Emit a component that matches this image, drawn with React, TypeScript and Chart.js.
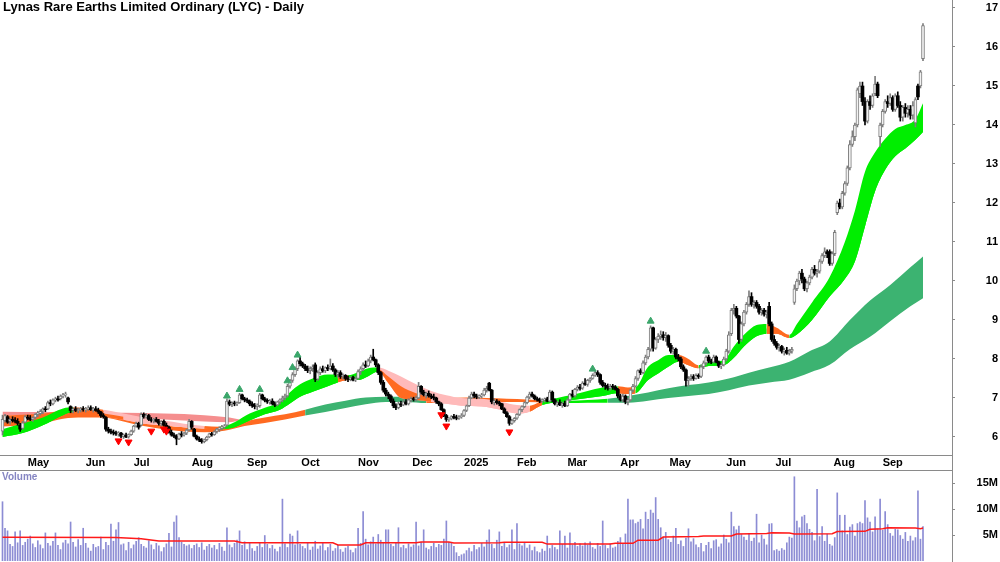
import React, { useEffect, useRef } from "react";
import { Chart, registerables } from "chart.js";
Chart.register(...registerables);

const FONT = "'Liberation Sans', Arial, Helvetica, sans-serif";

const TITLE = "Lynas Rare Earths Limited Ordinary (LYC) - Daily";

// Month labels and the bar index where each month starts
const MONTH_LABELS = ["May", "Jun", "Jul", "Aug", "Sep", "Oct", "Nov", "Dec", "2025", "Feb", "Mar", "Apr", "May", "Jun", "Jul", "Aug", "Sep"];
const MONTH_POS = [10, 33, 52, 75, 97, 118.5, 141, 162.5, 183, 204, 224, 245, 264.5, 287, 306.5, 329.5, 349];

const PRICE_TICKS = [6, 7, 8, 9, 10, 11, 12, 13, 14, 15, 16, 17];
const VOLUME_TICKS = [5, 10, 15];

// Daily candles (Apr 2024 - Sep 2025)
const OPEN = [
  6.15, 6.42, 6.52, 6.40, 6.45, 6.42, 6.40, 6.30, 6.22, 6.38,
  6.50, 6.48, 6.45, 6.50, 6.58, 6.60, 6.66, 6.72, 6.72, 6.88,
  6.85, 6.95, 6.98, 6.98, 7.05, 7.08, 7.00, 6.78, 6.68, 6.72,
  6.68, 6.70, 6.72, 6.70, 6.72, 6.75, 6.70, 6.72, 6.68, 6.64,
  6.55, 6.50, 6.20, 6.15, 6.12, 6.10, 6.08, 6.10, 6.02, 6.05,
  6.00, 6.06, 6.15, 6.28, 6.35, 6.30, 6.58, 6.52, 6.55, 6.45,
  6.42, 6.45, 6.40, 6.35, 6.40, 6.30, 6.25, 6.12, 6.05, 6.02,
  5.95, 6.08, 6.05, 6.10, 6.18, 6.40, 6.20, 6.02, 5.95, 5.92,
  5.88, 5.93, 6.00, 6.08, 6.06, 6.14, 6.20, 6.22, 6.26, 6.30,
  6.90, 6.84, 6.86, 6.85, 6.88, 7.08, 6.98, 6.95, 6.92, 6.85,
  6.80, 6.78, 6.80, 7.08, 6.98, 6.94, 6.90, 6.92, 6.85, 6.82,
  6.90, 6.95, 7.00, 7.05, 7.30, 7.45, 7.60, 7.75, 7.95, 7.88,
  7.82, 7.75, 7.70, 7.75, 7.85, 7.48, 7.65, 7.75, 7.70, 7.78,
  7.75, 7.82, 7.72, 7.60, 7.65, 7.55, 7.58, 7.50, 7.48, 7.52,
  7.46, 7.50, 7.68, 7.75, 7.85, 7.82, 7.95, 8.05, 7.98, 7.85,
  7.65, 7.40, 7.20, 7.10, 7.05, 6.92, 6.80, 6.75, 6.85, 6.82,
  6.90, 6.85, 6.95, 6.98, 6.96, 7.00, 7.30, 7.15, 7.08, 7.12,
  7.05, 7.02, 7.00, 6.90, 6.85, 6.70, 6.55, 6.45, 6.46, 6.52,
  6.50, 6.48, 6.52, 6.55, 6.68, 6.80, 7.00, 7.10, 7.05, 7.02,
  7.05, 7.08, 7.20, 7.38, 7.20, 6.90, 6.92, 6.88, 6.85, 6.72,
  6.62, 6.52, 6.35, 6.42, 6.48, 6.58, 6.70, 6.78, 6.88, 7.02,
  7.10, 7.05, 6.98, 6.95, 6.92, 6.95, 6.98, 6.92, 7.15, 6.95,
  6.85, 6.88, 6.82, 6.86, 6.80, 6.95, 7.10, 7.05, 7.22, 7.28,
  7.25, 7.38, 7.35, 7.45, 7.50, 7.58, 7.65, 7.60, 7.40, 7.32,
  7.30, 7.25, 7.30, 7.28, 7.22, 7.05, 6.95, 7.05, 6.90, 6.95,
  7.20, 7.30, 7.50, 7.70, 7.65, 7.90, 8.05, 8.25, 8.80, 8.28,
  8.50, 8.58, 8.62, 8.55, 8.60, 8.35, 8.20, 8.25, 8.05, 8.00,
  7.80, 7.72, 7.45, 7.50, 7.55, 7.50, 7.58, 7.55, 7.80, 7.90,
  8.05, 7.95, 7.92, 8.05, 7.92, 7.82, 7.85, 8.00, 8.20, 8.65,
  9.25, 9.30, 9.10, 8.50, 8.90, 9.20, 9.40, 9.60, 9.40, 9.45,
  9.35, 9.20, 9.25, 9.15, 9.35, 8.90, 8.50, 8.40, 8.30, 8.32,
  8.20, 8.22, 8.15, 8.20, 9.45, 9.80, 10.00, 10.20, 10.05, 9.80,
  9.95, 10.10, 10.30, 10.20, 10.25, 10.50, 10.65, 10.75, 10.75, 10.45,
  10.70, 11.75, 12.00, 11.90, 12.25, 12.50, 12.90, 13.50, 13.70, 14.00,
  14.80, 15.00, 14.60, 14.10, 14.60, 14.50, 14.80, 15.05, 13.70, 14.00,
  14.35, 14.60, 14.55, 14.70, 14.40, 14.75, 14.50, 14.20, 14.45, 14.30,
  14.40, 14.25, 14.05, 15.00, 15.00, 15.70
];
const HIGH = [
  6.56, 6.58, 6.55, 6.48, 6.52, 6.50, 6.47, 6.35, 6.40, 6.55,
  6.56, 6.55, 6.52, 6.60, 6.66, 6.70, 6.75, 6.78, 6.92, 6.95,
  6.98, 7.02, 7.05, 7.08, 7.12, 7.15, 7.02, 6.80, 6.75, 6.78,
  6.74, 6.76, 6.78, 6.76, 6.80, 6.80, 6.76, 6.78, 6.74, 6.66,
  6.60, 6.52, 6.25, 6.20, 6.18, 6.15, 6.14, 6.12, 6.08, 6.10,
  6.08, 6.18, 6.30, 6.38, 6.38, 6.62, 6.62, 6.60, 6.58, 6.50,
  6.48, 6.50, 6.45, 6.42, 6.44, 6.36, 6.28, 6.18, 6.10, 6.06,
  6.10, 6.14, 6.12, 6.20, 6.45, 6.42, 6.22, 6.05, 6.00, 5.96,
  5.95, 6.02, 6.10, 6.12, 6.16, 6.22, 6.26, 6.30, 6.32, 6.98,
  6.95, 6.90, 6.92, 6.90, 7.12, 7.10, 7.02, 7.00, 6.95, 6.90,
  6.86, 6.85, 7.12, 7.10, 7.02, 6.98, 6.96, 6.98, 6.90, 6.92,
  6.98, 7.05, 7.10, 7.35, 7.48, 7.65, 7.80, 7.98, 8.05, 7.92,
  7.86, 7.82, 7.80, 7.85, 7.90, 7.70, 7.80, 7.82, 7.80, 7.85,
  8.00, 7.88, 7.75, 7.70, 7.70, 7.62, 7.60, 7.56, 7.55, 7.56,
  7.55, 7.72, 7.80, 7.90, 7.95, 8.00, 8.10, 8.25, 8.00, 7.88,
  7.68, 7.45, 7.25, 7.15, 7.08, 6.98, 6.85, 6.90, 6.92, 6.95,
  6.96, 6.98, 7.02, 7.02, 7.05, 7.40, 7.32, 7.20, 7.15, 7.18,
  7.10, 7.10, 7.02, 6.92, 6.88, 6.72, 6.58, 6.50, 6.55, 6.58,
  6.56, 6.55, 6.60, 6.70, 6.82, 7.05, 7.15, 7.15, 7.10, 7.08,
  7.12, 7.25, 7.30, 7.40, 7.22, 6.98, 6.96, 6.92, 6.86, 6.75,
  6.65, 6.55, 6.45, 6.50, 6.60, 6.72, 6.80, 6.90, 7.05, 7.15,
  7.15, 7.08, 7.02, 7.00, 6.98, 7.00, 7.02, 7.20, 7.18, 6.98,
  6.92, 6.95, 6.90, 6.92, 6.98, 7.12, 7.20, 7.25, 7.32, 7.35,
  7.42, 7.50, 7.48, 7.52, 7.62, 7.70, 7.70, 7.62, 7.45, 7.38,
  7.36, 7.35, 7.35, 7.32, 7.25, 7.10, 7.10, 7.08, 7.00, 7.22,
  7.35, 7.55, 7.72, 7.75, 7.95, 8.10, 8.30, 8.85, 8.82, 8.55,
  8.65, 8.72, 8.70, 8.68, 8.62, 8.40, 8.30, 8.28, 8.12, 8.05,
  7.85, 7.75, 7.55, 7.60, 7.60, 7.62, 7.62, 7.85, 7.95, 8.08,
  8.10, 8.00, 8.10, 8.08, 7.95, 7.88, 8.05, 8.25, 8.70, 9.30,
  9.40, 9.35, 9.12, 8.95, 9.25, 9.45, 9.75, 9.70, 9.50, 9.50,
  9.40, 9.30, 9.30, 9.25, 9.45, 8.95, 8.60, 8.45, 8.38, 8.35,
  8.28, 8.30, 8.25, 8.30, 9.90, 10.05, 10.25, 10.30, 10.10, 10.00,
  10.15, 10.35, 10.40, 10.30, 10.55, 10.70, 10.85, 10.80, 10.80, 10.75,
  11.30, 12.05, 12.10, 12.30, 12.55, 12.95, 13.60, 13.85, 14.05, 14.95,
  15.10, 15.10, 14.70, 14.65, 14.75, 14.80, 15.25, 15.10, 14.05, 14.40,
  14.65, 14.75, 14.80, 14.75, 14.80, 14.85, 14.60, 14.50, 14.55, 14.50,
  14.50, 14.60, 14.70, 15.05, 15.40, 16.60
];
const LOW = [
  6.05, 6.38, 6.35, 6.33, 6.38, 6.36, 6.30, 6.14, 6.20, 6.36,
  6.44, 6.42, 6.40, 6.46, 6.52, 6.56, 6.60, 6.65, 6.70, 6.80,
  6.82, 6.90, 6.92, 6.95, 7.00, 7.02, 6.85, 6.62, 6.62, 6.65,
  6.62, 6.64, 6.66, 6.64, 6.68, 6.68, 6.64, 6.66, 6.60, 6.50,
  6.48, 6.15, 6.10, 6.08, 6.05, 6.04, 6.02, 5.98, 5.96, 5.98,
  5.97, 6.04, 6.12, 6.25, 6.20, 6.28, 6.48, 6.48, 6.42, 6.38,
  6.36, 6.38, 6.30, 6.28, 6.28, 6.22, 6.10, 6.02, 5.98, 5.80,
  5.93, 6.00, 6.02, 6.06, 6.15, 6.20, 6.00, 5.92, 5.88, 5.84,
  5.85, 5.90, 5.98, 6.02, 6.04, 6.10, 6.14, 6.18, 6.22, 6.28,
  6.80, 6.78, 6.80, 6.80, 6.86, 6.95, 6.90, 6.88, 6.80, 6.76,
  6.72, 6.70, 6.76, 6.95, 6.90, 6.86, 6.84, 6.82, 6.78, 6.80,
  6.85, 6.90, 6.95, 7.02, 7.25, 7.40, 7.55, 7.70, 7.82, 7.78,
  7.70, 7.65, 7.62, 7.68, 7.42, 7.45, 7.60, 7.66, 7.65, 7.70,
  7.72, 7.68, 7.55, 7.52, 7.50, 7.48, 7.45, 7.42, 7.44, 7.44,
  7.42, 7.48, 7.60, 7.70, 7.78, 7.80, 7.90, 7.95, 7.80, 7.60,
  7.35, 7.15, 7.05, 6.98, 6.88, 6.75, 6.70, 6.72, 6.78, 6.80,
  6.82, 6.82, 6.90, 6.92, 6.92, 6.98, 7.10, 7.05, 7.00, 7.02,
  6.98, 6.95, 6.86, 6.80, 6.68, 6.52, 6.40, 6.40, 6.44, 6.46,
  6.44, 6.45, 6.48, 6.52, 6.65, 6.78, 6.98, 7.00, 6.98, 6.98,
  7.00, 7.05, 7.15, 7.18, 6.85, 6.82, 6.84, 6.80, 6.70, 6.60,
  6.50, 6.30, 6.32, 6.38, 6.45, 6.55, 6.65, 6.75, 6.85, 6.98,
  7.02, 6.95, 6.92, 6.88, 6.88, 6.90, 6.90, 6.90, 6.90, 6.82,
  6.78, 6.80, 6.76, 6.78, 6.78, 6.92, 7.02, 7.02, 7.18, 7.20,
  7.22, 7.32, 7.30, 7.40, 7.48, 7.55, 7.55, 7.35, 7.28, 7.22,
  7.20, 7.20, 7.22, 7.20, 7.00, 6.92, 6.90, 6.85, 6.82, 6.92,
  7.15, 7.28, 7.45, 7.60, 7.62, 7.85, 8.00, 8.20, 8.20, 8.25,
  8.42, 8.50, 8.48, 8.45, 8.30, 8.15, 8.12, 8.00, 7.95, 7.75,
  7.68, 7.30, 7.30, 7.45, 7.45, 7.48, 7.50, 7.52, 7.75, 7.85,
  7.90, 7.88, 7.90, 7.90, 7.78, 7.75, 7.82, 7.95, 8.15, 8.60,
  9.15, 9.05, 8.40, 8.45, 8.85, 9.15, 9.35, 9.35, 9.30, 9.30,
  9.15, 9.12, 9.10, 9.05, 8.85, 8.45, 8.35, 8.25, 8.20, 8.15,
  8.10, 8.12, 8.10, 8.15, 9.40, 9.75, 9.90, 9.95, 9.75, 9.72,
  9.90, 10.05, 10.15, 10.10, 10.20, 10.45, 10.60, 10.60, 10.40, 10.40,
  10.65, 11.70, 11.85, 11.85, 12.20, 12.45, 12.85, 13.45, 13.60, 13.95,
  14.70, 14.50, 14.00, 14.05, 14.40, 14.45, 14.75, 14.70, 13.45, 13.95,
  14.30, 14.45, 14.50, 14.35, 14.35, 14.45, 14.10, 14.10, 14.20, 14.20,
  14.15, 14.15, 13.95, 14.65, 14.95, 15.65
];
const CLOSE = [
  6.45, 6.55, 6.38, 6.45, 6.42, 6.40, 6.35, 6.20, 6.36, 6.52,
  6.48, 6.45, 6.50, 6.58, 6.62, 6.66, 6.72, 6.70, 6.88, 6.85,
  6.95, 6.98, 6.95, 7.05, 7.08, 7.10, 6.90, 6.68, 6.72, 6.68,
  6.70, 6.72, 6.70, 6.72, 6.75, 6.70, 6.72, 6.68, 6.64, 6.55,
  6.52, 6.20, 6.15, 6.12, 6.10, 6.08, 6.10, 6.02, 6.05, 6.00,
  6.06, 6.15, 6.28, 6.35, 6.25, 6.58, 6.52, 6.55, 6.45, 6.42,
  6.45, 6.40, 6.35, 6.40, 6.30, 6.25, 6.12, 6.05, 6.02, 5.95,
  6.08, 6.05, 6.10, 6.18, 6.40, 6.25, 6.02, 5.95, 5.92, 5.88,
  5.93, 6.00, 6.08, 6.06, 6.14, 6.20, 6.22, 6.26, 6.28, 6.92,
  6.84, 6.86, 6.85, 6.88, 7.08, 6.98, 6.95, 6.92, 6.85, 6.80,
  6.78, 6.82, 7.08, 6.98, 6.94, 6.90, 6.92, 6.85, 6.82, 6.90,
  6.95, 7.00, 7.05, 7.30, 7.45, 7.60, 7.75, 7.95, 7.88, 7.82,
  7.75, 7.70, 7.75, 7.80, 7.48, 7.65, 7.75, 7.70, 7.78, 7.75,
  7.82, 7.72, 7.60, 7.65, 7.55, 7.58, 7.50, 7.48, 7.52, 7.46,
  7.50, 7.68, 7.75, 7.85, 7.82, 7.95, 8.05, 7.98, 7.85, 7.65,
  7.40, 7.20, 7.10, 7.05, 6.92, 6.80, 6.75, 6.85, 6.82, 6.90,
  6.85, 6.95, 6.98, 6.96, 7.00, 7.30, 7.15, 7.08, 7.12, 7.05,
  7.02, 7.00, 6.90, 6.85, 6.70, 6.55, 6.45, 6.46, 6.52, 6.50,
  6.48, 6.52, 6.55, 6.68, 6.80, 7.00, 7.10, 7.05, 7.02, 7.05,
  7.08, 7.20, 7.25, 7.20, 6.90, 6.92, 6.88, 6.85, 6.72, 6.62,
  6.52, 6.35, 6.42, 6.48, 6.58, 6.70, 6.78, 6.88, 7.02, 7.10,
  7.05, 6.98, 6.95, 6.92, 6.95, 6.98, 6.92, 7.15, 6.95, 6.85,
  6.88, 6.82, 6.86, 6.80, 6.95, 7.10, 7.05, 7.22, 7.28, 7.25,
  7.38, 7.35, 7.45, 7.50, 7.58, 7.65, 7.60, 7.40, 7.32, 7.30,
  7.25, 7.30, 7.28, 7.22, 7.05, 6.95, 7.05, 6.90, 6.95, 7.20,
  7.30, 7.50, 7.70, 7.65, 7.90, 8.05, 8.25, 8.80, 8.28, 8.50,
  8.58, 8.62, 8.55, 8.60, 8.35, 8.20, 8.25, 8.05, 8.00, 7.80,
  7.72, 7.45, 7.50, 7.55, 7.50, 7.58, 7.55, 7.80, 7.90, 8.05,
  7.95, 7.92, 8.05, 7.92, 7.82, 7.85, 8.00, 8.20, 8.62, 9.25,
  9.30, 9.10, 8.50, 8.90, 9.20, 9.40, 9.60, 9.40, 9.45, 9.35,
  9.20, 9.25, 9.15, 9.20, 8.90, 8.50, 8.40, 8.30, 8.32, 8.20,
  8.22, 8.15, 8.20, 8.25, 9.80, 10.00, 10.20, 10.05, 9.80, 9.95,
  10.10, 10.30, 10.20, 10.25, 10.50, 10.65, 10.75, 10.70, 10.45, 10.70,
  11.25, 12.00, 11.90, 12.25, 12.50, 12.90, 13.50, 13.70, 14.00, 14.90,
  15.00, 14.60, 14.10, 14.60, 14.50, 14.75, 15.05, 14.75, 14.00, 14.35,
  14.60, 14.55, 14.70, 14.40, 14.75, 14.50, 14.20, 14.45, 14.30, 14.40,
  14.25, 14.50, 14.65, 14.72, 15.36, 16.55
];

// Daily volume, millions of shares
const VOLUME = [
  11.4, 6.3, 5.8, 3.2, 2.8, 5.6, 3.5, 5.8, 3.0, 3.6,
  4.2, 4.8, 3.3, 2.6, 3.9, 3.1, 2.4, 5.4, 3.4, 2.9,
  3.8, 5.4, 3.0, 2.2, 3.5, 4.0, 3.3, 7.5, 3.6, 2.7,
  4.1, 3.0, 6.3, 3.4, 2.5, 1.9, 3.2, 2.6, 2.8, 4.6,
  2.2, 3.6, 3.0, 7.1, 3.8, 6.0, 7.4, 3.1, 3.3, 2.0,
  3.6, 2.4, 3.1, 3.8, 4.5, 3.2, 2.8, 2.5, 3.9, 3.1,
  2.2, 3.4, 2.9, 1.8, 2.6, 3.3, 5.3, 2.7, 7.5, 8.7,
  4.5, 3.6, 3.2, 2.9, 3.1, 2.4, 3.0, 3.3, 2.6, 3.5,
  2.1, 2.8, 3.2, 2.5, 3.0, 2.2, 3.4, 2.7, 1.9, 6.4,
  3.1, 2.6, 3.4, 4.0, 5.8, 3.0, 3.7, 2.2, 3.5, 2.4,
  1.9, 2.8, 3.4, 2.6, 4.9, 3.2, 2.4, 3.0, 2.3, 1.8,
  2.7, 11.9, 3.3, 2.6, 5.2, 4.8, 3.1, 5.8, 3.2, 2.8,
  2.4, 3.5, 2.1, 2.7, 3.8, 2.3, 2.9, 3.4, 2.0, 2.6,
  3.2, 1.9, 2.4, 3.0, 2.2, 1.7, 2.5, 2.8, 2.1, 1.6,
  2.4, 6.3, 3.4, 9.5, 4.2, 3.1, 3.7, 4.6, 3.3, 5.1,
  4.0, 3.6, 6.0, 6.0, 3.2, 2.8, 3.5, 6.4, 2.6, 3.0,
  2.4, 3.3, 2.7, 3.1, 7.5, 2.9, 3.6, 6.0, 2.5, 2.2,
  2.8, 3.4, 2.6, 3.2, 3.0, 4.2, 7.7, 3.6, 3.4, 2.8,
  1.6, 0.9, 1.2, 1.4, 2.0, 2.5, 1.8, 3.0, 2.2, 2.6,
  3.4, 2.7, 4.0, 6.0, 3.2, 2.4, 4.0, 5.6, 2.8, 3.5,
  2.6, 3.1, 6.0, 2.2, 7.2, 3.3, 2.9, 3.6, 2.5, 3.1,
  2.0, 2.7, 1.8, 1.6, 2.3, 1.9, 4.8, 2.4, 3.0, 2.6,
  2.2, 5.8, 3.2, 4.8, 2.5, 5.4, 3.1, 3.6, 2.8, 3.3,
  2.9, 3.5, 3.1, 3.7, 2.6, 2.3, 3.4, 2.8, 7.7, 3.0,
  2.4, 3.3, 2.5, 2.7, 3.8, 4.5, 3.2, 5.2, 11.9, 7.9,
  7.9, 7.2, 7.5, 8.0, 6.2, 9.4, 8.0, 9.8, 9.2, 12.2,
  8.0, 6.4, 4.6, 5.5, 4.1, 3.6, 4.8, 6.3, 3.2, 3.9,
  2.8, 4.4, 6.2, 3.7, 4.3, 3.1, 2.6, 3.4, 1.8, 3.0,
  3.6, 2.4, 3.9, 4.1, 2.7, 3.3, 5.0, 4.2, 3.5, 9.4,
  6.6, 6.0, 6.7, 5.1, 4.6, 4.0, 5.3, 3.8, 4.4, 9.0,
  3.5, 5.0, 4.2, 3.1, 7.1, 7.2, 2.0, 2.2, 1.9, 2.4,
  2.1, 3.5, 4.6, 4.4, 16.2, 7.7, 6.4, 8.5, 8.8, 7.2,
  6.1, 5.5, 3.9, 13.8, 4.7, 6.6, 3.8, 5.2, 3.2, 2.9,
  4.5, 13.1, 8.8, 5.8, 8.8, 5.1, 6.5, 7.0, 4.8, 7.2,
  7.5, 7.2, 11.6, 8.3, 7.5, 5.6, 8.5, 6.2, 11.9, 5.9,
  9.5, 7.0, 5.3, 4.8, 6.1, 6.0, 4.9, 4.2, 5.5, 3.8,
  4.8, 3.9, 4.5, 13.5, 4.2, 6.6
];

// Volume moving average (red line), read at these bars
const VMA_IDX = [0, 45, 55, 62, 92, 95, 131, 133, 142, 144, 164, 166, 177, 179, 197, 199, 214, 216, 241, 243, 250, 252, 260, 262, 276, 278, 289, 291, 303, 305, 312, 314, 329, 331, 342, 344, 349, 351, 362, 364, 365];
const VMA_VAL = [4.55, 4.5, 4.3, 3.85, 3.85, 3.5, 3.5, 3.1, 3.1, 3.5, 3.5, 3.65, 3.65, 3.45, 3.5, 3.6, 3.6, 3.25, 3.25, 3.4, 3.4, 4.0, 4.0, 4.6, 4.7, 4.8, 4.8, 5.2, 5.3, 5.45, 5.4, 5.2, 5.25, 5.65, 5.7, 6.1, 6.2, 6.4, 6.35, 6.2, 6.35];

// Short-term ribbon (top / middle / bottom edges) read at these bars
const SHORT_IDX = [0, 8, 16, 24, 28, 32, 40, 48, 56, 64, 72, 80, 86, 92, 98, 104, 110, 114, 118, 123, 129, 133, 137, 141, 145, 149, 153, 158, 164, 170, 176, 182, 190, 198, 204, 209, 214, 220, 226, 232, 238, 244, 248, 251, 256, 260, 264, 268, 272, 276, 280, 286, 290, 294, 299, 303, 307, 312, 315, 321, 328, 334, 338, 342, 346, 350, 354, 358, 362, 365];
const SHORT_TOP = [6.20, 6.35, 6.50, 6.73, 6.76, 6.74, 6.70, 6.60, 6.50, 6.42, 6.34, 6.28, 6.26, 6.38, 6.60, 6.75, 6.90, 7.15, 7.35, 7.50, 7.60, 7.60, 7.58, 7.66, 7.76, 7.78, 7.70, 7.55, 7.35, 7.18, 7.07, 7.00, 6.98, 6.90, 6.82, 6.80, 6.92, 7.00, 7.08, 7.18, 7.27, 7.30, 7.27, 7.28, 7.80, 7.97, 8.10, 8.10, 8.00, 7.84, 7.93, 7.97, 8.32, 8.62, 8.87, 8.90, 8.80, 8.62, 8.90, 9.45, 10.10, 11.00, 11.80, 12.80, 13.30, 13.65, 13.90, 14.00, 14.15, 14.56];
const SHORT_MID = [6.10, 6.22, 6.40, 6.65, 6.70, 6.70, 6.60, 6.52, 6.42, 6.36, 6.30, 6.25, 6.23, 6.32, 6.52, 6.67, 6.80, 7.00, 7.20, 7.33, 7.45, 7.50, 7.52, 7.56, 7.66, 7.73, 7.55, 7.30, 7.12, 7.00, 6.90, 6.85, 6.88, 6.80, 6.72, 6.73, 6.87, 6.95, 7.02, 7.10, 7.17, 7.22, 7.18, 7.20, 7.63, 7.80, 7.95, 8.02, 7.92, 7.80, 7.87, 7.90, 8.17, 8.47, 8.72, 8.78, 8.72, 8.58, 8.76, 9.22, 9.85, 10.50, 11.10, 12.00, 12.80, 13.25, 13.55, 13.70, 13.90, 14.20];
const SHORT_BOT = [6.00, 6.10, 6.30, 6.56, 6.64, 6.64, 6.52, 6.44, 6.34, 6.30, 6.25, 6.22, 6.20, 6.25, 6.42, 6.58, 6.70, 6.86, 7.03, 7.16, 7.30, 7.40, 7.46, 7.46, 7.56, 7.68, 7.38, 7.00, 6.95, 6.90, 6.85, 6.80, 6.78, 6.69, 6.60, 6.65, 6.82, 6.90, 6.95, 7.00, 7.05, 7.12, 7.10, 7.12, 7.46, 7.63, 7.80, 7.93, 7.84, 7.76, 7.82, 7.84, 8.03, 8.32, 8.58, 8.65, 8.65, 8.54, 8.63, 9.00, 9.60, 10.05, 10.50, 11.40, 12.30, 12.85, 13.20, 13.40, 13.62, 13.82];
// Colour of each ribbon piece from one reading to the next (G rising, O turning, P falling)
const SHORT_UPPER_COL = "GGGGOOPPPPPOGGGGGGGGGOGGGPPPPPPPPPPOGGGGGOOGGGGOOGGGGGGOOGGGGGGGGGGGGG".split("");
const SHORT_LOWER_COL = "GGGGOOOPPPPOGGGGGGGGGOGGGOOOOPPPPPPOGGGGGOOGGGGOOGGGGGGOOGGGGGGGGGGGGG".split("");

// Long-term ribbon
const LONG_IDX = [0, 8, 16, 24, 32, 40, 48, 56, 64, 72, 80, 88, 96, 104, 112, 120, 128, 136, 144, 152, 160, 168, 176, 184, 192, 200, 208, 216, 224, 232, 240, 248, 256, 264, 272, 280, 288, 296, 304, 312, 320, 328, 336, 344, 352, 360, 365];
const LONG_TOP = [6.55, 6.57, 6.60, 6.68, 6.72, 6.68, 6.55, 6.40, 6.30, 6.25, 6.22, 6.28, 6.40, 6.50, 6.58, 6.70, 6.83, 6.93, 7.01, 7.03, 7.03, 7.00, 7.00, 7.01, 7.00, 6.98, 6.96, 6.93, 6.93, 6.95, 6.98, 7.05, 7.14, 7.25, 7.33, 7.40, 7.50, 7.65, 7.78, 7.93, 8.20, 8.45, 9.00, 9.50, 9.90, 10.35, 10.63];
const LONG_BOT = [6.27, 6.30, 6.35, 6.47, 6.50, 6.50, 6.40, 6.28, 6.20, 6.14, 6.12, 6.16, 6.28, 6.36, 6.45, 6.55, 6.64, 6.74, 6.84, 6.90, 6.90, 6.87, 6.87, 6.88, 6.88, 6.90, 6.90, 6.88, 6.87, 6.88, 6.88, 6.88, 6.93, 7.00, 7.05, 7.10, 7.20, 7.32, 7.40, 7.47, 7.65, 7.85, 8.25, 8.57, 8.97, 9.35, 9.56];
const LONG_COL = "OOOOOOOOOOOOOOODDDDDDOOOOOOGGGDDDDDDDDDDDDDDDDD".split("");

// Older falling ribbon at the start
const SAL_IDX = [0, 16, 32, 48, 64, 80, 90, 94];
const SAL_TOP = [6.65, 6.64, 6.63, 6.62, 6.60, 6.56, 6.50, 6.45];
const SAL_BOT = [6.55, 6.56, 6.55, 6.50, 6.45, 6.40, 6.38, 6.42];

// Signal arrows
const UP_ARROW_IDX = [89, 94, 102, 113, 115, 117, 234, 257, 279];
const UP_ARROW_Y = [7.05, 7.22, 7.22, 7.44, 7.78, 8.1, 7.74, 8.97, 8.2];
const DOWN_ARROW_IDX = [46, 50, 59, 64, 65, 174, 176, 201];
const DOWN_ARROW_Y = [5.9, 5.87, 6.15, 6.2, 6.15, 6.57, 6.28, 6.13];

const COLOR_OF: Record<string, string> = {
  G: "#00ee00",
  O: "#ff6a21",
  P: "#ffbaba",
  D: "#3cb371",
  S: "#f58e8e",
};

const X_MIN = -0.99;
const X_MAX = 376.5;
const Y_MIN = 5.538;
const Y_MAX = 17.205;

const pts = (idx: number[], vals: number[]) => idx.map((x, k) => ({ x, y: vals[k] }));

const AXIS_GREY = "#8a8a8a";

export default function App() {
  const priceRef = useRef<HTMLCanvasElement | null>(null);
  const volRef = useRef<HTMLCanvasElement | null>(null);

  useEffect(() => {
    const idx = CLOSE.map((_, i) => i);
    const up = idx.map((i) => CLOSE[i] >= OPEN[i]);

    const bandLine = (data: any[], extra: any) => ({
      type: "line",
      data,
      borderWidth: 0,
      borderColor: "rgba(0,0,0,0)",
      pointRadius: 0,
      pointHoverRadius: 0,
      cubicInterpolationMode: "monotone",
      ...extra,
    });

    // dataset indices: 0 SAL top, 1 SAL bot, 2 LONG top, 3 LONG bot, 4 SHORT top, 5 SHORT mid, 6 SHORT bot
    const priceDatasets: any[] = [
      bandLine(pts(SAL_IDX, SAL_TOP), { fill: 1, backgroundColor: COLOR_OF.S, order: 50 }),
      bandLine(pts(SAL_IDX, SAL_BOT), { fill: false, order: 50 }),
      bandLine(pts(LONG_IDX, LONG_TOP), {
        fill: 3,
        backgroundColor: COLOR_OF.D,
        order: 40,
        segment: { backgroundColor: (c: any) => COLOR_OF[LONG_COL[c.p0DataIndex]] },
      }),
      bandLine(pts(LONG_IDX, LONG_BOT), { fill: false, order: 40 }),
      bandLine(pts(SHORT_IDX, SHORT_TOP), {
        fill: 6,
        backgroundColor: COLOR_OF.G,
        order: 31,
        segment: { backgroundColor: (c: any) => COLOR_OF[SHORT_UPPER_COL[c.p0DataIndex]] },
      }),
      bandLine(pts(SHORT_IDX, SHORT_MID), {
        fill: 6,
        backgroundColor: COLOR_OF.G,
        order: 30,
        segment: { backgroundColor: (c: any) => COLOR_OF[SHORT_LOWER_COL[c.p0DataIndex]] },
      }),
      bandLine(pts(SHORT_IDX, SHORT_BOT), { fill: false, order: 32 }),
      {
        type: "bar",
        data: idx.map((i) => ({ x: i, y: [LOW[i], HIGH[i]] })),
        backgroundColor: idx.map((i) => (up[i] ? "#7d7d7d" : "#000000")),
        borderWidth: 0,
        barThickness: 1,
        grouped: false,
        order: 3,
      },
      {
        type: "bar",
        data: idx.map((i) => ({ x: i, y: [OPEN[i], CLOSE[i]] })),
        backgroundColor: idx.map((i) => (up[i] ? "#f2f2f2" : "#000000")),
        borderColor: idx.map((i) => (up[i] ? "#7d7d7d" : "#000000")),
        borderWidth: idx.map((i) => (up[i] ? 1 : 0)),
        borderSkipped: false,
        barThickness: 3,
        minBarLength: 1,
        grouped: false,
        order: 2,
      },
      {
        type: "line",
        data: pts(UP_ARROW_IDX, UP_ARROW_Y),
        showLine: false,
        pointStyle: "triangle",
        pointRadius: 4,
        pointHoverRadius: 4,
        backgroundColor: "#3aa66a",
        borderColor: "#3aa66a",
        borderWidth: 1,
        order: 1,
      },
      {
        type: "line",
        data: pts(DOWN_ARROW_IDX, DOWN_ARROW_Y),
        showLine: false,
        pointStyle: "triangle",
        pointRotation: 180,
        pointRadius: 4,
        pointHoverRadius: 4,
        backgroundColor: "#ff0000",
        borderColor: "#ff0000",
        borderWidth: 1,
        order: 1,
      },
    ];

    const tickFont = { family: FONT, size: 11, weight: "bold" as const };

    const priceExtraLines = {
      id: "priceExtraLines",
      afterDraw(chart: any) {
        const { ctx, chartArea } = chart;
        ctx.save();
        ctx.strokeStyle = AXIS_GREY;
        ctx.lineWidth = 1;
        ctx.beginPath();
        ctx.moveTo(Math.round(chartArea.right) + 0.5, chartArea.bottom);
        ctx.lineTo(Math.round(chartArea.right) + 0.5, chart.height);
        ctx.stroke();
        ctx.restore();
      },
    };

    const priceChart = new Chart(priceRef.current as HTMLCanvasElement, {
      type: "line",
      data: { datasets: priceDatasets },
      plugins: [priceExtraLines],
      options: {
        animation: false,
        responsive: false,
        maintainAspectRatio: false,
        devicePixelRatio: 1,
        layout: { autoPadding: false, padding: { left: 0, right: 2, top: 0, bottom: 0 } },
        plugins: { legend: { display: false }, tooltip: { enabled: false } },
        scales: {
          x: {
            type: "linear",
            min: X_MIN,
            max: X_MAX,
            offset: false,
            afterBuildTicks: (s: any) => {
              s.ticks = MONTH_POS.map((v) => ({ value: v }));
            },
            afterFit: (s: any) => {
              s.height = 15;
              s.paddingLeft = 0;
              s.paddingRight = 0;
            },
            grid: { display: false, drawTicks: false },
            border: { display: true, color: AXIS_GREY },
            ticks: {
              autoSkip: false,
              maxRotation: 0,
              minRotation: 0,
              align: "start",
              padding: 1,
              color: "#000",
              font: tickFont,
              callback: (_v: any, i: number) => MONTH_LABELS[i],
            },
          },
          y: {
            type: "linear",
            position: "right",
            min: Y_MIN,
            max: Y_MAX,
            afterBuildTicks: (s: any) => {
              s.ticks = PRICE_TICKS.map((v) => ({ value: v }));
            },
            afterFit: (s: any) => {
              s.width = 46;
              s.paddingTop = 0;
              s.paddingBottom = 0;
            },
            grid: { drawOnChartArea: false, drawTicks: true, tickLength: 3, color: AXIS_GREY },
            border: { display: true, color: AXIS_GREY },
            ticks: {
              crossAlign: "far",
              color: "#000",
              font: tickFont,
              callback: (v: any) => String(v),
            },
          },
        },
      } as any,
    });

    const volTopLine = {
      id: "volTopLine",
      afterDraw(chart: any) {
        const { ctx, chartArea } = chart;
        ctx.save();
        ctx.strokeStyle = AXIS_GREY;
        ctx.lineWidth = 1;
        ctx.beginPath();
        ctx.moveTo(0, 0.5);
        ctx.lineTo(chartArea.right, 0.5);
        ctx.stroke();
        ctx.restore();
      },
    };

    const volChart = new Chart(volRef.current as HTMLCanvasElement, {
      type: "bar",
      data: {
        datasets: [
          {
            type: "line",
            data: pts(VMA_IDX, VMA_VAL),
            borderColor: "#ff1a1a",
            borderWidth: 1.5,
            pointRadius: 0,
            pointHoverRadius: 0,
            fill: false,
            order: 1,
          } as any,
          {
            type: "bar",
            data: idx.map((i) => ({ x: i, y: VOLUME[i] })),
            backgroundColor: "#8c8cd4",
            borderWidth: 0,
            barThickness: 1,
            grouped: false,
            order: 2,
          } as any,
        ],
      },
      plugins: [volTopLine],
      options: {
        animation: false,
        responsive: false,
        maintainAspectRatio: false,
        devicePixelRatio: 1,
        layout: { autoPadding: false, padding: { left: 0, right: 2, top: 0, bottom: 1 } },
        plugins: { legend: { display: false }, tooltip: { enabled: false } },
        scales: {
          x: { type: "linear", min: X_MIN, max: X_MAX, offset: false, display: false },
          y: {
            type: "linear",
            position: "right",
            min: 0,
            max: 17.5,
            afterBuildTicks: (s: any) => {
              s.ticks = VOLUME_TICKS.map((v) => ({ value: v }));
            },
            afterFit: (s: any) => {
              s.width = 46;
              s.paddingTop = 0;
              s.paddingBottom = 0;
            },
            grid: { drawOnChartArea: false, drawTicks: true, tickLength: 3, color: AXIS_GREY },
            border: { display: true, color: AXIS_GREY },
            ticks: {
              crossAlign: "far",
              color: "#000",
              font: tickFont,
              callback: (v: any) => `${v}M`,
            },
          },
        },
      } as any,
    });

    return () => {
      priceChart.destroy();
      volChart.destroy();
    };
  }, []);

  return (
    <div style={{ position: "absolute", left: 0, top: 0, width: 1000, height: 562, background: "#fff", overflow: "hidden" }}>
      <canvas ref={priceRef} width={1000} height={470} style={{ position: "absolute", left: 0, top: 0, width: 1000, height: 470 }} />
      <canvas ref={volRef} width={1000} height={92} style={{ position: "absolute", left: 0, top: 470, width: 1000, height: 92 }} />
      <div
        style={{
          position: "absolute",
          left: 3,
          top: 0,
          font: `bold 13px ${FONT}`,
          lineHeight: "13px",
          color: "#000",
          whiteSpace: "nowrap",
          pointerEvents: "none",
        }}
      >
        {TITLE}
      </div>
      <div
        style={{
          position: "absolute",
          left: 2,
          top: 472,
          font: `bold 10px ${FONT}`,
          lineHeight: "10px",
          color: "#8585c2",
          whiteSpace: "nowrap",
          pointerEvents: "none",
        }}
      >
        Volume
      </div>
    </div>
  );
}
